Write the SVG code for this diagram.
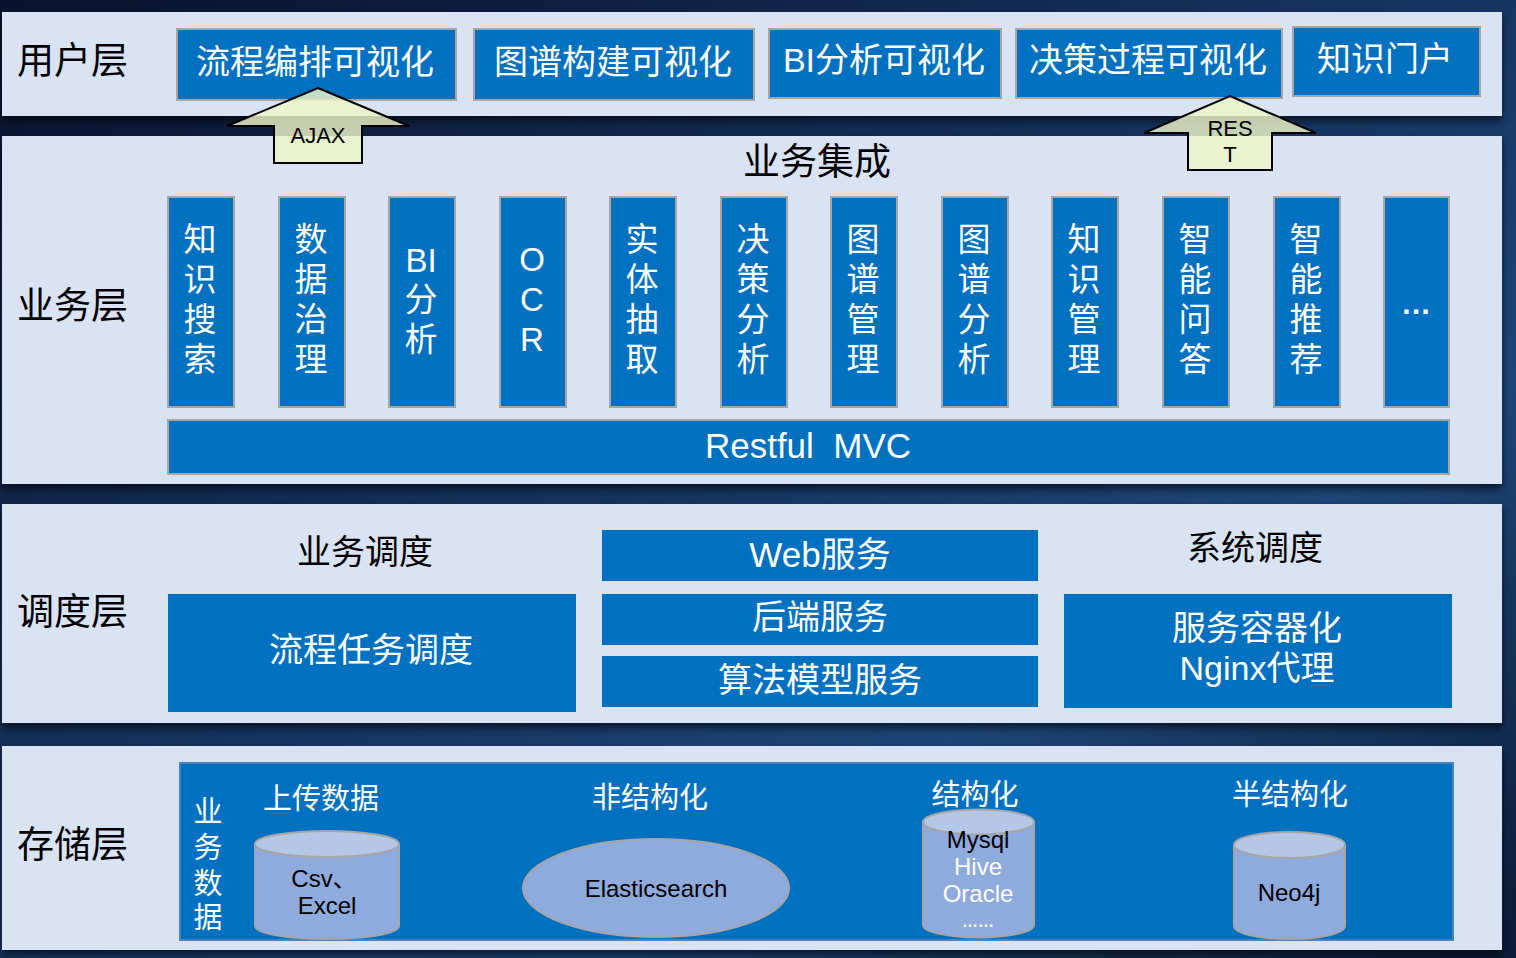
<svg xmlns="http://www.w3.org/2000/svg" width="1516" height="958" viewBox="0 0 1516 958">
  <defs>
    <linearGradient id="bg" x1="0" y1="0" x2="1" y2="1">
      <stop offset="0" stop-color="#08122b"/>
      <stop offset="0.45" stop-color="#15325e"/>
      <stop offset="0.7" stop-color="#1c4677"/>
      <stop offset="1" stop-color="#0b1a36"/>
    </linearGradient>
    <filter id="sh" x="-2%" y="-10%" width="104%" height="125%">
      <feDropShadow dx="0" dy="5" stdDeviation="4" flood-color="#000" flood-opacity="0.6"/>
    </filter>
    <style>
      .panel { fill: #dae3f3; }
      .box { fill: #0070c0; stroke: #a6a6a6; stroke-width: 2; }
      .boxn { fill: #0070c0; }
      .t { font-family: "Liberation Sans", "Noto Sans CJK SC", sans-serif; dominant-baseline: central; text-anchor: middle; }
      .w { fill: #ffffff; }
      .k { fill: #000000; }
      .layer { font-size: 37px; text-anchor: start; }
      .big { font-size: 34px; }
      .vert { font-size: 33px; }
      .mid { font-size: 29px; }
      .sm { font-size: 24px; }
      .arrow { fill: #eef5c8; fill-opacity: 0.82; stroke: #000; stroke-width: 2; }
      .cyl { fill: #8faadc; stroke: #a6a6a6; stroke-width: 2; }
      .cyltop { fill: #b4c7e7; stroke: #a6a6a6; stroke-width: 2; }
    </style>
  </defs>

  <rect x="0" y="0" width="1516" height="958" fill="url(#bg)"/>

  <!-- panels -->
  <g id="panels">
    <rect class="panel" x="2" y="12" width="1500" height="104" filter="url(#sh)"/>
    <rect class="panel" x="2" y="136" width="1500" height="348" filter="url(#sh)"/>
    <rect class="panel" x="2" y="504" width="1500" height="219" filter="url(#sh)"/>
    <rect class="panel" x="2" y="746" width="1500" height="204" filter="url(#sh)"/>
  </g>

  <!-- layer labels -->
  <g id="layer-labels">
    <text class="t k layer" x="17" y="61">用户层</text>
    <text class="t k layer" x="17" y="306">业务层</text>
    <text class="t k layer" x="17" y="612">调度层</text>
    <text class="t k layer" x="17" y="845">存储层</text>
  </g>

  <!-- user layer -->
  <g id="user-1"><rect class="box" x="177" y="29" width="279" height="71"/><text class="t w big" x="315" y="62">流程编排可视化</text></g>
  <g id="user-2"><rect class="box" x="474" y="29" width="280" height="71"/><text class="t w big" x="613" y="62">图谱构建可视化</text></g>
  <g id="user-3"><rect class="box" x="769" y="29" width="232" height="69"/><text class="t w big" x="884" y="60">BI分析可视化</text></g>
  <g id="user-4"><rect class="box" x="1016" y="29" width="266" height="69"/><text class="t w big" x="1148" y="60">决策过程可视化</text></g>
  <g id="user-5"><rect class="box" x="1293" y="27" width="187" height="69"/><text class="t w big" x="1385" y="59">知识门户</text></g>

  <!-- business layer -->
  <text class="t k" x="817" y="162" font-size="37">业务集成</text>

  <g id="biz-1"><rect class="box" x="168" y="197" width="66" height="210"/>
    <text class="t w vert"><tspan x="200" y="239">知</tspan><tspan x="200" y="279">识</tspan><tspan x="200" y="319">搜</tspan><tspan x="200" y="359">索</tspan></text></g>
  <g id="biz-2"><rect class="box" x="279" y="197" width="66" height="210"/>
    <text class="t w vert"><tspan x="311" y="239">数</tspan><tspan x="311" y="279">据</tspan><tspan x="311" y="319">治</tspan><tspan x="311" y="359">理</tspan></text></g>
  <g id="biz-3"><rect class="box" x="389" y="197" width="66" height="210"/>
    <text class="t w vert"><tspan x="421" y="260">BI</tspan><tspan x="421" y="299">分</tspan><tspan x="421" y="339">析</tspan></text></g>
  <g id="biz-4"><rect class="box" x="500" y="197" width="66" height="210"/>
    <text class="t w vert"><tspan x="532" y="259">O</tspan><tspan x="532" y="299">C</tspan><tspan x="532" y="339">R</tspan></text></g>
  <g id="biz-5"><rect class="box" x="610" y="197" width="66" height="210"/>
    <text class="t w vert"><tspan x="642" y="239">实</tspan><tspan x="642" y="279">体</tspan><tspan x="642" y="319">抽</tspan><tspan x="642" y="359">取</tspan></text></g>
  <g id="biz-6"><rect class="box" x="721" y="197" width="66" height="210"/>
    <text class="t w vert"><tspan x="753" y="239">决</tspan><tspan x="753" y="279">策</tspan><tspan x="753" y="319">分</tspan><tspan x="753" y="359">析</tspan></text></g>
  <g id="biz-7"><rect class="box" x="831" y="197" width="66" height="210"/>
    <text class="t w vert"><tspan x="863" y="239">图</tspan><tspan x="863" y="279">谱</tspan><tspan x="863" y="319">管</tspan><tspan x="863" y="359">理</tspan></text></g>
  <g id="biz-8"><rect class="box" x="942" y="197" width="66" height="210"/>
    <text class="t w vert"><tspan x="974" y="239">图</tspan><tspan x="974" y="279">谱</tspan><tspan x="974" y="319">分</tspan><tspan x="974" y="359">析</tspan></text></g>
  <g id="biz-9"><rect class="box" x="1052" y="197" width="66" height="210"/>
    <text class="t w vert"><tspan x="1084" y="239">知</tspan><tspan x="1084" y="279">识</tspan><tspan x="1084" y="319">管</tspan><tspan x="1084" y="359">理</tspan></text></g>
  <g id="biz-10"><rect class="box" x="1163" y="197" width="66" height="210"/>
    <text class="t w vert"><tspan x="1195" y="239">智</tspan><tspan x="1195" y="279">能</tspan><tspan x="1195" y="319">问</tspan><tspan x="1195" y="359">答</tspan></text></g>
  <g id="biz-11"><rect class="box" x="1274" y="197" width="66" height="210"/>
    <text class="t w vert"><tspan x="1306" y="239">智</tspan><tspan x="1306" y="279">能</tspan><tspan x="1306" y="319">推</tspan><tspan x="1306" y="359">荐</tspan></text></g>
  <g id="biz-12"><rect class="box" x="1384" y="197" width="65" height="210"/>
    <text class="t w" x="1416" y="303" font-size="30" font-weight="bold">…</text></g>

  <g id="restful"><rect class="box" x="168" y="420" width="1281" height="54"/>
    <text class="t w" x="808" y="445" font-size="35" xml:space="preserve">Restful  MVC</text></g>

  <!-- scheduling layer -->
  <text class="t k big" x="365" y="552">业务调度</text>
  <text class="t k big" x="1255" y="548">系统调度</text>
  <g id="sched-flow"><rect class="boxn" x="168" y="594" width="408" height="118"/>
    <text class="t w big" x="371" y="650">流程任务调度</text></g>
  <g id="sched-web"><rect class="boxn" x="602" y="530" width="436" height="51"/>
    <text class="t w" x="820" y="554" font-size="35">Web服务</text></g>
  <g id="sched-backend"><rect class="boxn" x="602" y="594" width="436" height="51"/>
    <text class="t w big" x="820" y="617">后端服务</text></g>
  <g id="sched-algo"><rect class="boxn" x="602" y="656" width="436" height="51"/>
    <text class="t w big" x="820" y="680">算法模型服务</text></g>
  <g id="sched-sys"><rect class="boxn" x="1064" y="594" width="388" height="114"/>
    <text class="t w big"><tspan x="1257" y="628">服务容器化</tspan><tspan x="1257" y="668">Nginx代理</tspan></text></g>

  <!-- storage layer -->
  <g id="storage">
    <rect x="180" y="763" width="1273" height="177" fill="#0070c0" stroke="#4f81bd" stroke-width="2"/>
    <text class="t w mid"><tspan x="208" y="812">业</tspan><tspan x="208" y="848">务</tspan><tspan x="208" y="884">数</tspan><tspan x="208" y="918">据</tspan></text>
    <text class="t w mid" x="321" y="799">上传数据</text>
    <text class="t w mid" x="650" y="798">非结构化</text>
    <text class="t w mid" x="975" y="795">结构化</text>
    <text class="t w mid" x="1290" y="795">半结构化</text>
  </g>
  <g id="db-csv">
    <path class="cyl" d="M255,844 L255,926 A72,13 0 0 0 399,926 L399,844"/>
    <ellipse class="cyltop" cx="327" cy="844" rx="72" ry="13"/>
    <text class="t k sm"><tspan x="324" y="878">Csv、</tspan><tspan x="327" y="905">Excel</tspan></text>
  </g>
  <g id="db-es">
    <ellipse cx="656" cy="888" rx="133" ry="49" fill="#8faadc" stroke="#a6a6a6" stroke-width="2"/>
    <text class="t k sm" x="656" y="888">Elasticsearch</text>
  </g>
  <g id="db-sql">
    <path class="cyl" d="M923,822 L923,925 A55.5,12.5 0 0 0 1034,925 L1034,822"/>
    <ellipse class="cyltop" cx="978.5" cy="822" rx="55.5" ry="12.5"/>
    <text class="t k sm" x="978" y="839">Mysql</text>
    <text class="t w sm" x="978" y="866">Hive</text>
    <text class="t w sm" x="978" y="893">Oracle</text>
    <text class="t w" x="978" y="921" font-size="16" font-weight="bold">……</text>
  </g>
  <g id="db-neo4j">
    <path class="cyl" d="M1234,845 L1234,926 A55.5,13 0 0 0 1345,926 L1345,845"/>
    <ellipse class="cyltop" cx="1289.5" cy="845" rx="55.5" ry="13"/>
    <text class="t k sm" x="1289" y="892">Neo4j</text>
  </g>

  <!-- connectors -->
  <g id="connectors">
    <g id="ajax">
      <polygon class="arrow" points="318,88 409,126 362,126 362,163 274,163 274,126 227,126"/>
      <text class="t k" x="318" y="135" font-size="22">AJAX</text>
    </g>
    <g id="rest">
      <polygon class="arrow" points="1230,96 1316,133 1272,133 1272,170 1188,170 1188,133 1144,133"/>
      <text class="t k" font-size="22"><tspan x="1230" y="128">RES</tspan><tspan x="1230" y="154">T</tspan></text>
    </g>
  </g>
</svg>
